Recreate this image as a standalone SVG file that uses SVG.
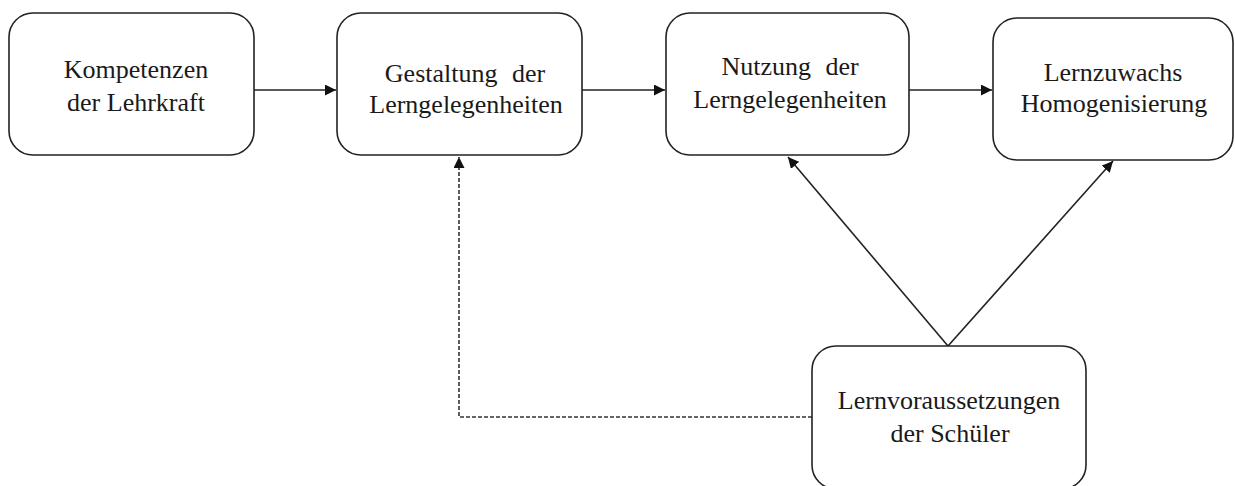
<svg xmlns="http://www.w3.org/2000/svg" width="1235" height="486" viewBox="0 0 1235 486">
  <style>
    .box { fill: #ffffff; stroke: #222222; stroke-width: 1.6; }
    .lbl { font-family: "Liberation Serif", "Times New Roman", serif; font-size: 26px; fill: #1a1a1a; text-anchor: middle; }
    .edge { fill: none; stroke: #222222; stroke-width: 1.6; }
    .dash { fill: none; stroke: #333333; stroke-width: 1.6; stroke-dasharray: 4 2; }
  </style>
  <defs>
    <marker id="arrow" viewBox="0 0 10 10" refX="10" refY="5" markerWidth="11" markerHeight="11" markerUnits="userSpaceOnUse" orient="auto">
      <path d="M0,0 L10,5 L0,10 Z" fill="#111111"/>
    </marker>
  </defs>
  <rect width="1235" height="486" fill="#ffffff"/>

  <g id="connectors">
    <line class="edge" x1="254" y1="90" x2="336" y2="90" marker-end="url(#arrow)"/>
    <line class="edge" x1="582" y1="90" x2="665" y2="90" marker-end="url(#arrow)"/>
    <line class="edge" x1="909" y1="90" x2="992" y2="90" marker-end="url(#arrow)"/>
    <polyline class="dash" points="812,417 459,417 459,157" marker-end="url(#arrow)"/>
    <line class="edge" x1="948" y1="346" x2="788" y2="157" marker-end="url(#arrow)"/>
    <line class="edge" x1="948" y1="346" x2="1113" y2="161" marker-end="url(#arrow)"/>
  </g>

  <g id="kompetenzen">
    <rect class="box" x="9" y="13" width="245" height="142" rx="24"/>
    <text class="lbl" x="136" y="78">Kompetenzen</text>
    <text class="lbl" x="136" y="111">der Lehrkraft</text>
  </g>

  <g id="gestaltung">
    <rect class="box" x="337" y="13" width="245" height="142" rx="24"/>
    <text class="lbl" x="465" y="82" word-spacing="8">Gestaltung der</text>
    <text class="lbl" x="466" y="113">Lerngelegenheiten</text>
  </g>

  <g id="nutzung">
    <rect class="box" x="666" y="13" width="243" height="142" rx="24"/>
    <text class="lbl" x="790" y="75" word-spacing="8">Nutzung der</text>
    <text class="lbl" x="790" y="108">Lerngelegenheiten</text>
  </g>

  <g id="lernzuwachs">
    <rect class="box" x="993" y="18" width="240" height="142" rx="24"/>
    <text class="lbl" x="1113" y="81">Lernzuwachs</text>
    <text class="lbl" x="1114" y="112">Homogenisierung</text>
  </g>

  <g id="lernvoraussetzungen">
    <rect class="box" x="812" y="346" width="274" height="143" rx="24"/>
    <text class="lbl" x="949" y="409">Lernvoraussetzungen</text>
    <text class="lbl" x="950" y="442">der Schüler</text>
  </g>
</svg>
